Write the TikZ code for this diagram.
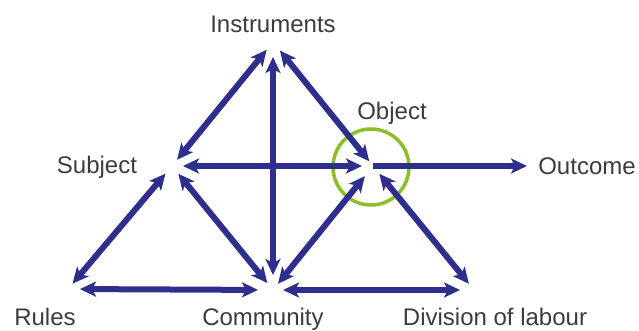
\documentclass[tikz,border=0pt]{standalone}
\usepackage{fontspec}
\setmainfont{Liberation Sans}
\usetikzlibrary{arrows.meta}
\definecolor{navy}{RGB}{46,46,140}
\definecolor{ring}{RGB}{140,190,40}
\definecolor{txt}{RGB}{60,60,60}
\begin{document}
\begin{tikzpicture}[x=1pt,y=-1pt,
  tip/.tip={Stealth[length=16pt,width=15pt,inset=4pt]},
  link/.style={draw=navy, line width=6pt, tip-tip},
  onelink/.style={draw=navy, line width=6pt, -tip},
  lbl/.style={text=txt, font=\fontsize{24}{28}\selectfont, anchor=base, inner sep=0pt}]
\useasboundingbox (0,0) rectangle (639,331);
% vertices
\coordinate (I) at (273,42);
\coordinate (S) at (172,166);
\coordinate (O) at (373,166);
\coordinate (R) at (68,289);
\coordinate (C) at (273,290);
\coordinate (D) at (474,290);
\coordinate (Out) at (531,166);
% labels
\node[lbl] (lI) at (273,33) {Instruments};
\node[lbl] (lO) at (392,120) {Object};
\node[lbl] (lS) at (97,174) {Subject};
\node[lbl] (lOut) at (587,175) {Outcome};
\node[lbl] (lR) at (45,325) {Rules};
\node[lbl] (lC) at (263,325) {Community};
\node[lbl] (lD) at (495,325) {Division of labour};
% ring round the object
\draw[ring, line width=3.5pt] (371,167) circle[radius=38pt];
% connectors
\draw[link, shorten <=10pt, shorten >=8pt] (I) -- (S);
\draw[link, shorten <=11pt, shorten >=6pt] (I) -- (O);
\draw[link, shorten <=15pt, shorten >=15pt] (I) -- (C);
\draw[link, shorten <=11pt, shorten >=11pt] (S) -- (O);
\draw[onelink, shorten >=4pt] (O) -- (Out);
\draw[link, shorten <=10pt, shorten >=7pt] (S) -- (R);
\draw[link, shorten <=10pt, shorten >=9pt] (S) -- (C);
\draw[link, shorten <=12pt, shorten >=15pt] (R) -- (C);
\draw[link, shorten <=10pt, shorten >=14pt] (C) -- (D);
\draw[link, shorten <=8pt, shorten >=13pt] (C) -- (O);
\draw[link, shorten <=10pt, shorten >=8pt] (O) -- (D);
\end{tikzpicture}
\end{document}
